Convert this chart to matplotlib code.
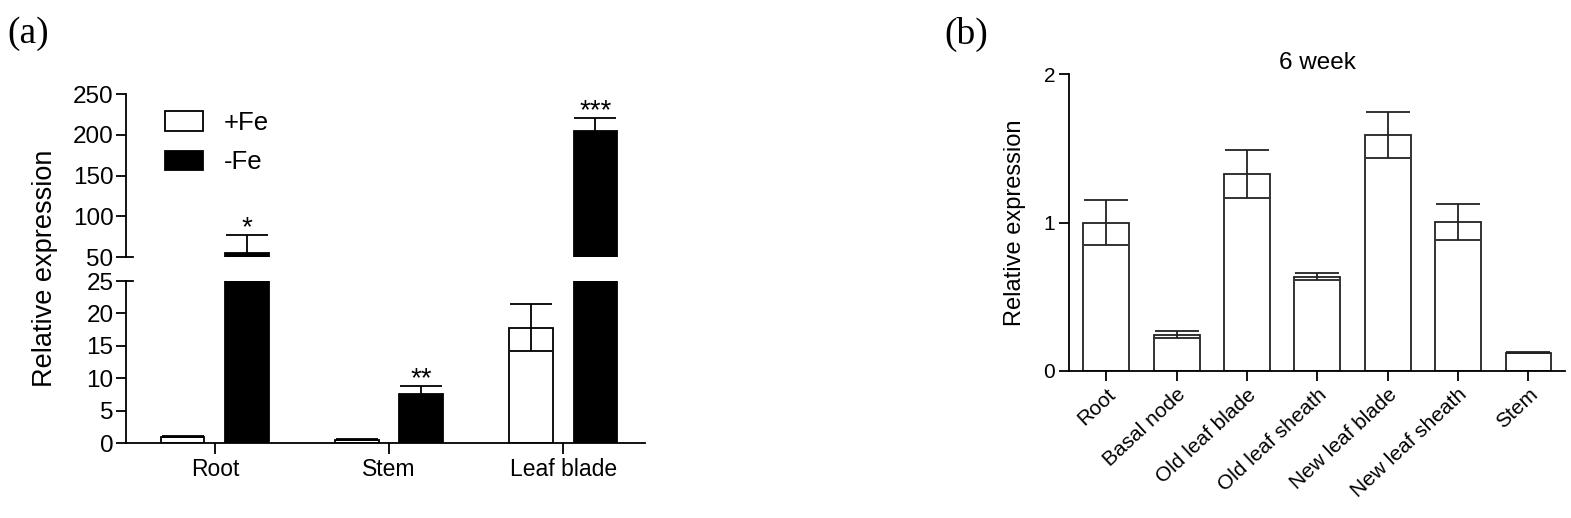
import matplotlib
matplotlib.use('Agg')
import matplotlib.pyplot as plt
import matplotlib.transforms as mtransforms
import numpy as np

plt.rcParams['font.family'] = ['Liberation Sans', 'DejaVu Sans']

# ---------------- Panel (a) data ----------------
tissues_a = ['Root', 'Stem', 'Leaf blade']
series_labels = ['+Fe', '-Fe']
plus_fe = [1.0, 0.5, 17.8]
plus_fe_err = [0.1, 0.1, 3.6]
minus_fe = [55.0, 7.5, 205.0]
minus_fe_err = [22.0, 1.3, 15.0]
signif = ['*', '**', '***']
upper_ticks = [50, 100, 150, 200, 250]
lower_ticks = [0, 5, 10, 15, 20, 25]

# ---------------- Panel (b) data ----------------
tissues_b = ['Root', 'Basal node', 'Old leaf blade', 'Old leaf sheath',
             'New leaf blade', 'New leaf sheath', 'Stem']
expr_b = [1.0, 0.245, 1.325, 0.636, 1.59, 1.005, 0.124]
expr_b_err = [0.15, 0.025, 0.16, 0.025, 0.155, 0.12, 0.006]
ticks_b = [0, 1, 2]
title_b = '6 week'

W, H = 1571, 518
fig = plt.figure(figsize=(W / 100, H / 100), dpi=100)


def fr(x0, y0, x1, y1):
    return [x0 / W, 1 - y1 / H, (x1 - x0) / W, (y1 - y0) / H]


LW = 1.3
ax_up = fig.add_axes(fr(126, 94, 645, 257))
ax_lo = fig.add_axes(fr(126, 281, 645, 443))

xa = np.arange(len(tissues_a))
off = 0.185
bw = 0.25
for ax in (ax_up, ax_lo):
    ax.bar(xa - off, plus_fe, bw, color='white', edgecolor='black',
           linewidth=LW, label=series_labels[0], zorder=2)
    ax.bar(xa + off, minus_fe, bw, color='black', edgecolor='black',
           linewidth=LW, label=series_labels[1], zorder=2)
    ax.errorbar(xa - off, plus_fe, yerr=plus_fe_err, fmt='none', ecolor='black',
                elinewidth=LW, capsize=15, capthick=LW, zorder=3)
    ax.errorbar(xa + off, minus_fe, yerr=minus_fe_err, fmt='none', ecolor='black',
                elinewidth=LW, capsize=15, capthick=LW, zorder=3)
    ax.set_xlim(-0.51, 2.47)
    for s in ('top', 'right'):
        ax.spines[s].set_visible(False)
    ax.spines['left'].set_linewidth(LW)
    ax.spines['bottom'].set_linewidth(LW)
    ax.tick_params(axis='both', direction='out', length=7.5, width=LW,
                   labelsize=17.5, pad=1.5)

ax_up.set_ylim(50, 250)
ax_up.set_yticks(upper_ticks)
ax_up.spines['bottom'].set_visible(False)
ax_up.tick_params(axis='x', bottom=False, labelbottom=False)

ax_lo.set_ylim(0, 25)
ax_lo.set_yticks(lower_ticks)
ax_lo.set_xticks(xa)
ax_lo.set_xticklabels(tissues_a, fontsize=16.5)
ax_lo.tick_params(axis='x', length=8, pad=3)

# break marks
for ax, yv in ((ax_up, 50), (ax_lo, 25)):
    ax.plot([0, 0.014], [yv, yv], transform=ax.get_yaxis_transform(),
            color='black', lw=LW, clip_on=False)

# significance stars
for i in range(len(tissues_a)):
    top = minus_fe[i] + minus_fe_err[i]
    ax = ax_up if top > 50 else ax_lo
    ax.annotate(signif[i], (xa[i] + off, top), xytext=(0, 0),
                textcoords='offset points', ha='center', va='baseline',
                fontsize=20)

ax_up.legend(loc='upper left', bbox_to_anchor=(0.075, 0.897),
             frameon=False, fontsize=18.5, handlelength=1.48,
             handleheight=0.78, handletextpad=0.82, labelspacing=0.6,
             borderpad=0, borderaxespad=0)

fig.text(45 / W, 1 - 268 / H, 'Relative expression', rotation=90,
         ha='center', va='center', fontsize=19.5)

fig.text(7 / W, 1 - 34 / H, '(a)', family=['Liberation Serif', 'DejaVu Serif'],
         fontsize=27, va='center', ha='left')

# ---------------- Panel (b) ----------------
ax_b = fig.add_axes(fr(1069, 74, 1565, 371))
xb = np.arange(len(tissues_b))
ax_b.bar(xb, expr_b, 0.65, color='white', edgecolor='#222222',
         linewidth=LW, zorder=2)
ax_b.errorbar(xb, expr_b, yerr=expr_b_err, fmt='none', ecolor='#222222',
              elinewidth=LW, capsize=16, capthick=LW, zorder=3)
ax_b.set_xlim(-0.53, 6.52)
ax_b.set_ylim(0, 2)
ax_b.set_yticks(ticks_b)
ax_b.set_xticks(xb)
ax_b.set_xticklabels(tissues_b, rotation=43, ha='right',
                     rotation_mode='anchor', fontsize=16.5)
shift = mtransforms.ScaledTranslation(-6 / 100, -2 / 100, fig.dpi_scale_trans)
for lab in ax_b.get_xticklabels():
    lab.set_transform(lab.get_transform() + shift)
for s in ('top', 'right'):
    ax_b.spines[s].set_visible(False)
ax_b.spines['left'].set_linewidth(LW)
ax_b.spines['bottom'].set_linewidth(LW)
ax_b.tick_params(axis='both', direction='out', length=7, width=LW,
                 labelsize=15, pad=3)
ax_b.set_title(title_b, fontsize=17.5, pad=2)

fig.text(1015 / W, 1 - 223 / H, 'Relative expression', rotation=90,
         ha='center', va='center', fontsize=17)

fig.text(944 / W, 1 - 34 / H, '(b)', family=['Liberation Serif', 'DejaVu Serif'],
         fontsize=27, va='center', ha='left')

fig.savefig('out.png', dpi=100)
